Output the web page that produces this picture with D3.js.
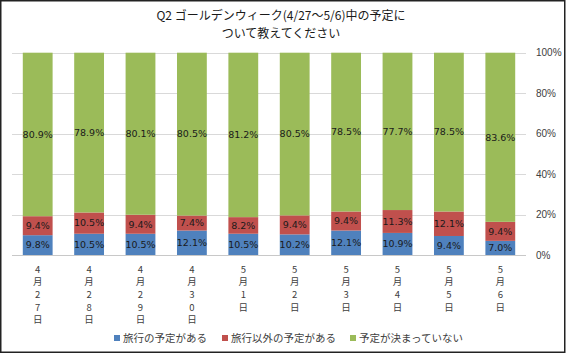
<!DOCTYPE html>
<html><head><meta charset="utf-8">
<script src="https://cdn.jsdelivr.net/npm/d3@7"></script>
<style>
html,body{margin:0;padding:0;background:#fff;}
svg{display:block;font-family:"Noto Sans CJK JP","Noto Sans",sans-serif;}
</style></head>
<body>
<svg id="c" width="566" height="355"></svg>
<script>
const categories = ["4月27日","4月28日","4月29日","4月30日","5月1日","5月2日","5月3日","5月4日","5月5日","5月6日"];
const seriesNames = ["旅行の予定がある","旅行以外の予定がある","予定が決まっていない"];
const travel = [9.8,10.5,10.5,12.1,10.5,10.2,12.1,10.9,9.4,7.0];
const other = [9.4,10.5,9.4,7.4,8.2,9.4,9.4,11.3,12.1,9.4];
const undecided = [80.9,78.9,80.1,80.5,81.2,80.5,78.5,77.7,78.5,83.6];
const yTicks = [0,0.2,0.4,0.6,0.8,1.0];
const colors = ["#4f81bd","#c0504d","#9bbb59"];
const titleLines = ["Q2 ゴールデンウィーク(4/27～5/6)中の予定に","ついて教えてください"];

const svg = d3.select("#c");
svg.append("rect").attr("x",0.75).attr("y",0.75).attr("width",564).attr("height",351.5)
  .attr("fill","#fff").attr("stroke","#222").attr("stroke-width",1.5);

const rows = categories.map((c,i)=>({cat:c, s0:travel[i], s1:other[i], s2:undecided[i]}));
const stack = d3.stack().keys(["s0","s1","s2"]).offset(d3.stackOffsetExpand);
const layers = stack(rows);

const x = d3.scaleBand().domain(categories).range([12,526]).paddingInner(0.42).paddingOuter(0.21);
const y = d3.scaleLinear().domain([0,1]).range([255,52.7]);

// gridlines
svg.append("g").selectAll("line").data(yTicks).join("line")
  .attr("x1",12).attr("x2",526).attr("y1",d=>Math.round(y(d))+0.5).attr("y2",d=>Math.round(y(d))+0.5)
  .attr("stroke",d=>d===0?"#c8c8c8":"#d9d9d9").attr("stroke-width",1);

// y axis labels
const yAxis = d3.axisRight(y).tickValues(yTicks).tickFormat(d3.format(".0%")).tickSize(0).tickPadding(0);
const ya = svg.append("g").attr("transform","translate(536,0)").call(yAxis);
ya.select(".domain").remove();
ya.selectAll("text").attr("font-size",10).attr("fill","#404040").attr("font-family","Liberation Sans, Arial, sans-serif");

// bars
const g = svg.append("g");
layers.forEach((layer,li)=>{
  g.append("g").selectAll("rect").data(layer).join("rect")
    .attr("x",d=>x(d.data.cat)).attr("width",x.bandwidth())
    .attr("y",d=>y(d[1])).attr("height",d=>y(d[0])-y(d[1]))
    .attr("fill",colors[li]);
  g.append("g").selectAll("text").data(layer).join("text")
    .attr("x",d=>x(d.data.cat)+x.bandwidth()/2)
    .attr("y",d=>(y(d[0])+y(d[1]))/2)
    .attr("dy","0.35em").attr("text-anchor","middle")
    .attr("font-size",9.5).attr("fill","#1a1a1a")
    .attr("font-family","DejaVu Sans, sans-serif")
    .text(d=>d3.format(".1f")(d.data[layer.key])+"%");
});

// x labels (vertical stacked chars)
const xl = svg.append("g");
categories.forEach(c=>{
  const chars = Array.from(c);
  const t = xl.append("text").attr("text-anchor","middle").attr("font-size",9.5).attr("fill","#404040");
  chars.forEach((ch,i)=>{
    t.append("tspan").attr("x",x(c)+x.bandwidth()/2).attr("y",272.5+i*12.7).text(ch);
  });
});

// title
svg.append("g").selectAll("text").data(titleLines).join("text")
  .attr("x",281).attr("y",(d,i)=>20+i*18).attr("text-anchor","middle")
  .attr("font-size",12).attr("fill","#1a1a1a").text(d=>d);

// legend
const legX = [114,222,350];
const lg = svg.append("g");
seriesNames.forEach((n,i)=>{
  lg.append("rect").attr("x",legX[i]).attr("y",335).attr("width",6).attr("height",6).attr("fill",colors[i]);
  lg.append("text").attr("x",legX[i]+9).attr("y",338).attr("dy","0.35em")
    .attr("font-size",10.5).attr("fill","#404040").text(n);
});
</script>
</body></html>
